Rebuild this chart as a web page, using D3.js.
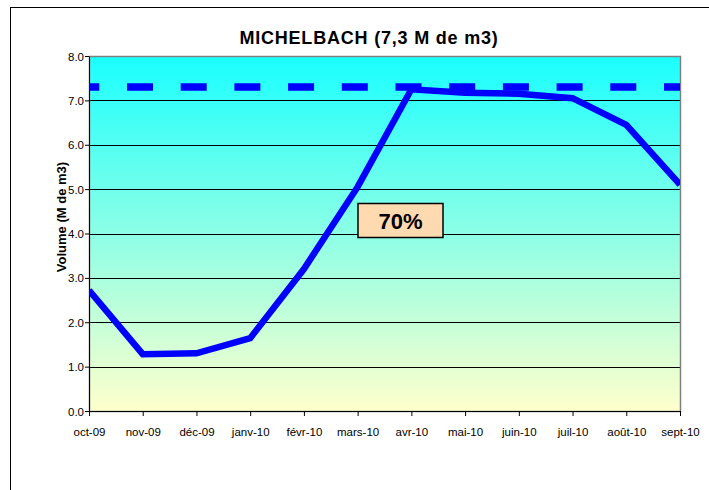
<!DOCTYPE html>
<html><head><meta charset="utf-8">
<script src="https://cdn.jsdelivr.net/npm/d3@7"></script>
<style>
body{margin:0;background:#fff;}
text{font-family:"Liberation Sans",Arial,sans-serif;}
</style></head>
<body><svg id="c" width="709" height="490"></svg>
<script>
const months = ["oct-09","nov-09","déc-09","janv-10","févr-10","mars-10","avr-10","mai-10","juin-10","juil-10","août-10","sept-10"];
const volumes = [2.72, 1.28, 1.30, 1.64, 3.20, 5.05, 7.25, 7.17, 7.15, 7.05, 6.45, 5.10];
const capacity = [7.3, 7.3, 7.3, 7.3, 7.3, 7.3, 7.3, 7.3, 7.3, 7.3, 7.3, 7.3];
const yTicks = [0,1,2,3,4,5,6,7,8];
const titleText = "MICHELBACH (7,3 M de m3)";
const yLabel = "Volume (M de m3)";
const percentLabel = "70%";

const svg = d3.select("#c");
const L = 89, R = 680, T = 56, B = 411;

// outer frame
svg.append("rect").attr("x",10.5).attr("y",7.5).attr("width",800).attr("height",600)
  .attr("fill","none").attr("stroke","#000").attr("stroke-width",1);

const x = d3.scalePoint().domain(months).range([L, R]);
const y = d3.scaleLinear().domain([0, 8]).range([B, T]);

const defs = svg.append("defs");
const g = defs.append("linearGradient").attr("id","bg").attr("x1",0).attr("y1",0).attr("x2",0).attr("y2",1);
g.append("stop").attr("offset","0%").attr("stop-color","#1affff");
g.append("stop").attr("offset","100%").attr("stop-color","#ffffcc");
defs.append("clipPath").attr("id","clip").append("rect").attr("x",L).attr("y",T).attr("width",R-L).attr("height",B-T);

svg.append("rect").attr("x",L).attr("y",T).attr("width",R-L).attr("height",B-T).attr("fill","url(#bg)");

// gridlines
svg.append("g").selectAll("line").data(yTicks.slice(1,-1)).join("line")
  .attr("x1",L).attr("x2",R).attr("y1",d=>Math.round(y(d))+0.5).attr("y2",d=>Math.round(y(d))+0.5)
  .attr("stroke","#000").attr("stroke-width",1);

// plot border
svg.append("rect").attr("x",L+0.5).attr("y",T+0.5).attr("width",R-L).attr("height",B-T)
  .attr("fill","none").attr("stroke","#808080").attr("stroke-width",1.5);

// axes
const yAxis = d3.axisLeft(y).tickValues(yTicks).tickFormat(d3.format(".1f")).tickSize(4).tickSizeOuter(0);
const ya = svg.append("g").attr("transform",`translate(${L},0)`).call(yAxis);
ya.select(".domain").attr("stroke","#000");
ya.selectAll("text").attr("font-size","11.5px").attr("fill","#000").attr("x",-5).attr("dy","0.35em");
ya.selectAll(".tick line").attr("stroke","#000");

const xAxis = d3.axisBottom(x).tickSize(5).tickSizeOuter(0);
const xa = svg.append("g").attr("transform",`translate(0,${B})`).call(xAxis);
xa.select(".domain").attr("stroke","#000");
xa.selectAll("text").attr("font-size","11.5px").attr("fill","#000").attr("y",17);
xa.selectAll(".tick line").attr("stroke","#000");

// capacity dashed line
const lineGen = d3.line().x((d,i)=>x(months[i])).y(d=>y(d));
svg.append("path").datum(capacity).attr("d",lineGen).attr("clip-path","url(#clip)")
  .attr("fill","none").attr("stroke","#0000ff").attr("stroke-width",7.5)
  .attr("stroke-dasharray","26 27.7").attr("stroke-dashoffset",15.7);

// volume line
svg.append("path").datum(volumes).attr("d",lineGen).attr("clip-path","url(#clip)")
  .attr("fill","none").attr("stroke","#0000ff").attr("stroke-width",6.5).attr("stroke-linejoin","miter");

// title
svg.append("text").attr("x",369).attr("y",44).attr("text-anchor","middle")
  .attr("font-size","18px").attr("font-weight","bold").attr("letter-spacing","0.8px").text(titleText);

// y label
svg.append("text").attr("transform","translate(66,217) rotate(-90)").attr("text-anchor","middle")
  .attr("font-size","13px").attr("font-weight","bold").text(yLabel);

// 70% box
svg.append("rect").attr("x",358).attr("y",203.5).attr("width",85).attr("height",34)
  .attr("fill","#ffdab0").attr("stroke","#000").attr("stroke-width",1.5);
svg.append("text").attr("x",400.5).attr("y",229).attr("text-anchor","middle")
  .attr("font-size","22px").attr("font-weight","bold").text(percentLabel);
</script></body></html>
